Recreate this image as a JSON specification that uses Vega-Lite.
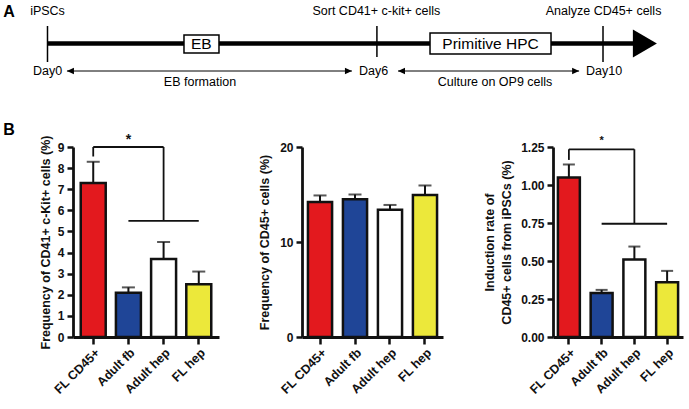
{
  "$schema": "https://vega.github.io/schema/vega-lite/v6.json",
  "padding": 0,
  "background": "white",
  "bounds": "flush",
  "spacing": 0,
  "config": {
    "view": {"stroke": null},
    "font": "Liberation Sans",
    "axis": {
      "domainColor": "#111", "domainWidth": 2.8, "tickColor": "#111", "tickWidth": 2.5, "tickSize": 6,
      "labelColor": "#111", "labelFont": "Liberation Sans", "labelFontWeight": "bold", "labelFontSize": 12,
      "titleFont": "Liberation Sans", "titleFontSize": 12.5, "titleFontWeight": "bold", "titleColor": "#111",
      "grid": false, "labelPadding": 3, "titlePadding": 5, "labelOverlap": false
    },
    "axisX": {"labelAngle": -45, "labelFontSize": 12.5, "labelPadding": 2, "tickSize": 7}
  },
  "vconcat": [
    {
      "width": 689,
      "height": 147,
      "layer": [
        {
          "data": {"values": [{"x": 0, "x2": 10.54, "y": 10.35}]},
          "mark": {"type": "rule", "strokeWidth": 4.5, "color": "#000"},
          "encoding": {
            "x": {"field": "x", "type": "quantitative", "scale": {"domain": [-0.855, 11.548], "nice": false, "zero": false}, "axis": null},
            "x2": {"field": "x2"},
            "y": {"field": "y", "type": "quantitative", "scale": {"domain": [0, 14.7], "nice": false, "zero": false}, "axis": null}
          }
        },
        {
          "data": {"values": [{"x": 0, "y": 8.5, "y2": 12.1}, {"x": 5.93, "y": 9.0, "y2": 12.1}, {"x": 10.0, "y": 8.5, "y2": 12.1}]},
          "mark": {"type": "rule", "strokeWidth": 1.5, "color": "#000"},
          "encoding": {
            "x": {"field": "x", "type": "quantitative"},
            "y": {"field": "y", "type": "quantitative"},
            "y2": {"field": "y2"}
          }
        },
        {
          "data": {"values": [{"x": 10.97, "y": 10.35}]},
          "mark": {"type": "point", "shape": "M0,0L-1,-0.58L-1,0.58Z", "size": 2304, "filled": true, "color": "#000", "opacity": 1},
          "encoding": {
            "x": {"field": "x", "type": "quantitative"},
            "y": {"field": "y", "type": "quantitative"}
          }
        },
        {
          "data": {"values": [{"x": 2.457, "x2": 3.087, "y": 9.4, "y2": 11.2}, {"x": 6.886, "x2": 9.064, "y": 9.3, "y2": 11.4}]},
          "mark": {"type": "rect", "fill": "white", "stroke": "#000", "strokeWidth": 1.5},
          "encoding": {
            "x": {"field": "x", "type": "quantitative"},
            "x2": {"field": "x2"},
            "y": {"field": "y", "type": "quantitative"},
            "y2": {"field": "y2"}
          }
        },
        {
          "data": {"values": [{"x": 2.77, "y": 10.3, "label": "EB"}, {"x": 7.975, "y": 10.35, "label": "Primitive HPC"}]},
          "mark": {"type": "text", "fontSize": 15.5, "baseline": "middle", "align": "center", "color": "#000"},
          "encoding": {
            "x": {"field": "x", "type": "quantitative"},
            "y": {"field": "y", "type": "quantitative"},
            "text": {"field": "label"}
          }
        },
        {
          "data": {"values": [
            {"x": 0, "y": 13.6, "label": "iPSCs"},
            {"x": 5.92, "y": 13.6, "label": "Sort CD41+ c-kit+ cells"},
            {"x": 10.01, "y": 13.6, "label": "Analyze CD45+ cells"},
            {"x": 0, "y": 7.6, "label": "Day0"},
            {"x": 5.87, "y": 7.6, "label": "Day6"},
            {"x": 10.02, "y": 7.6, "label": "Day10"},
            {"x": 2.745, "y": 6.5, "label": "EB formation"},
            {"x": 8.056, "y": 6.5, "label": "Culture on OP9 cells"}
          ]},
          "mark": {"type": "text", "fontSize": 12.5, "baseline": "middle", "align": "center", "color": "#000"},
          "encoding": {
            "x": {"field": "x", "type": "quantitative"},
            "y": {"field": "y", "type": "quantitative"},
            "text": {"field": "label"}
          }
        },
        {
          "data": {"values": [{"x": 0.35, "x2": 5.48, "y": 7.6}, {"x": 6.31, "x2": 9.57, "y": 7.6}]},
          "mark": {"type": "rule", "strokeWidth": 1, "color": "#000"},
          "encoding": {
            "x": {"field": "x", "type": "quantitative"},
            "x2": {"field": "x2"},
            "y": {"field": "y", "type": "quantitative"}
          }
        },
        {
          "data": {"values": [{"x": 0.35, "y": 7.6}, {"x": 6.31, "y": 7.6}]},
          "mark": {"type": "point", "shape": "M0,0L1,-0.45L1,0.45Z", "size": 196, "filled": true, "color": "#000", "opacity": 1},
          "encoding": {
            "x": {"field": "x", "type": "quantitative"},
            "y": {"field": "y", "type": "quantitative"}
          }
        },
        {
          "data": {"values": [{"x": 5.48, "y": 7.6}, {"x": 9.57, "y": 7.6}]},
          "mark": {"type": "point", "shape": "M0,0L-1,-0.45L-1,0.45Z", "size": 196, "filled": true, "color": "#000", "opacity": 1},
          "encoding": {
            "x": {"field": "x", "type": "quantitative"},
            "y": {"field": "y", "type": "quantitative"}
          }
        },
        {
          "data": {"values": [{"x": -0.693, "y": 13.5, "label": "A"}, {"x": -0.693, "y": 1.7, "label": "B"}]},
          "mark": {"type": "text", "fontSize": 16, "fontWeight": "bold", "baseline": "middle", "align": "center", "color": "#000"},
          "encoding": {
            "x": {"field": "x", "type": "quantitative"},
            "y": {"field": "y", "type": "quantitative"},
            "text": {"field": "label"}
          }
        }
      ]
    },
    {
      "bounds": "flush",
      "spacing": 0,
      "hconcat": [
        {
          "width": 73, "height": 190,
          "data": {"values": [{}]},
          "mark": {"type": "point", "opacity": 0},
          "encoding": {}
        },
        {
          "width": 146, "height": 190,
          "encoding": {
            "x": {"field": "group", "type": "nominal", "scale": {"domain": ["FL CD45+", "Adult fb", "Adult hep", "FL hep"], "paddingInner": 0.29, "paddingOuter": 0.22}, "axis": {"title": null}}
          },
          "layer": [
            {
              "data": {"name": "b1"},
              "mark": {"type": "rule", "strokeWidth": 2, "color": "#111"},
              "encoding": {
                "y": {"field": "mean", "type": "quantitative", "scale": {"domain": [0, 9], "nice": false}, "axis": {"values": [0, 1, 2, 3, 4, 5, 6, 7, 8, 9], "title": "Frequency of CD41+ c-Kit+ cells (%)"}},
                "y2": {"field": "upper"}
              }
            },
            {
              "data": {"name": "b1"},
              "mark": {"type": "tick", "size": 13, "thickness": 2, "color": "#111"},
              "encoding": {
                "y": {"field": "upper", "type": "quantitative", "axis": {"values": [0, 1, 2, 3, 4, 5, 6, 7, 8, 9], "title": "Frequency of CD41+ c-Kit+ cells (%)"}}
              }
            },
            {
              "data": {"name": "b1"},
              "mark": {"type": "bar", "stroke": "#111", "strokeWidth": 2.5},
              "encoding": {
                "y": {"field": "mean", "type": "quantitative", "axis": {"values": [0, 1, 2, 3, 4, 5, 6, 7, 8, 9], "title": "Frequency of CD41+ c-Kit+ cells (%)"}},
                "fill": {"field": "group", "type": "nominal", "scale": {"domain": ["FL CD45+", "Adult fb", "Adult hep", "FL hep"], "range": ["#e3191e", "#1f4597", "#ffffff", "#ece83a"]}, "legend": null}
              }
            },
            {
              "data": {"values": [
                {"group": "FL CD45+", "b": "FL CD45+", "y": 8.55, "y2": 9.0},
                {"group": "FL CD45+", "b": "Adult hep", "y": 9.0, "y2": 9.0},
                {"group": "Adult hep", "b": "Adult hep", "y": 9.0, "y2": 5.5},
                {"group": "Adult fb", "b": "FL hep", "y": 5.5, "y2": 5.5}
              ]},
              "mark": {"type": "rule", "strokeWidth": 1.8, "color": "#111"},
              "encoding": {
                "x2": {"field": "b"},
                "y": {"field": "y", "type": "quantitative", "axis": {"values": [0, 1, 2, 3, 4, 5, 6, 7, 8, 9], "title": "Frequency of CD41+ c-Kit+ cells (%)"}},
                "y2": {"field": "y2"}
              }
            },
            {
              "data": {"values": [{"group": "Adult fb", "y": 9.35, "label": "*"}]},
              "mark": {"type": "text", "fontSize": 14, "fontWeight": "bold", "baseline": "middle", "color": "#111"},
              "encoding": {
                "y": {"field": "y", "type": "quantitative", "axis": {"values": [0, 1, 2, 3, 4, 5, 6, 7, 8, 9], "title": "Frequency of CD41+ c-Kit+ cells (%)"}},
                "text": {"field": "label"}
              }
            }
          ]
        },
        {
          "width": 83, "height": 190,
          "data": {"values": [{}]},
          "mark": {"type": "point", "opacity": 0},
          "encoding": {}
        },
        {
          "width": 141, "height": 190,
          "encoding": {
            "x": {"field": "group", "type": "nominal", "scale": {"domain": ["FL CD45+", "Adult fb", "Adult hep", "FL hep"], "paddingInner": 0.31, "paddingOuter": 0.17}, "axis": {"title": null}}
          },
          "layer": [
            {
              "data": {"name": "b2"},
              "mark": {"type": "rule", "strokeWidth": 2, "color": "#111"},
              "encoding": {
                "y": {"field": "mean", "type": "quantitative", "scale": {"domain": [0, 20], "nice": false}, "axis": {"values": [0, 10, 20], "title": "Frequency of CD45+ cells (%)", "titlePadding": 8}},
                "y2": {"field": "upper"}
              }
            },
            {
              "data": {"name": "b2"},
              "mark": {"type": "tick", "size": 13, "thickness": 2, "color": "#111"},
              "encoding": {
                "y": {"field": "upper", "type": "quantitative", "axis": {"values": [0, 10, 20], "title": "Frequency of CD45+ cells (%)", "titlePadding": 8}}
              }
            },
            {
              "data": {"name": "b2"},
              "mark": {"type": "bar", "stroke": "#111", "strokeWidth": 2.5},
              "encoding": {
                "y": {"field": "mean", "type": "quantitative", "axis": {"values": [0, 10, 20], "title": "Frequency of CD45+ cells (%)", "titlePadding": 8}},
                "fill": {"field": "group", "type": "nominal", "scale": {"domain": ["FL CD45+", "Adult fb", "Adult hep", "FL hep"], "range": ["#e3191e", "#0d2f8c", "#ffffff", "#ece83a"]}, "legend": null}
              }
            }
          ]
        },
        {
          "width": 110, "height": 190,
          "data": {"values": [{}]},
          "mark": {"type": "point", "opacity": 0},
          "encoding": {}
        },
        {
          "width": 130, "height": 190,
          "encoding": {
            "x": {"field": "group", "type": "nominal", "scale": {"domain": ["FL CD45+", "Adult fb", "Adult hep", "FL hep"], "paddingInner": 0.33, "paddingOuter": 0.15}, "axis": {"title": null}}
          },
          "layer": [
            {
              "data": {"name": "b3"},
              "mark": {"type": "rule", "strokeWidth": 2, "color": "#111"},
              "encoding": {
                "y": {"field": "mean", "type": "quantitative", "scale": {"domain": [0, 1.25], "nice": false}, "axis": {"values": [0, 0.25, 0.5, 0.75, 1, 1.25], "format": ".2f", "title": ["Induction rate of", "CD45+ cells from iPSCs (%)"], "titleLineHeight": 17, "titlePadding": 7}},
                "y2": {"field": "upper"}
              }
            },
            {
              "data": {"name": "b3"},
              "mark": {"type": "tick", "size": 12, "thickness": 2, "color": "#111"},
              "encoding": {
                "y": {"field": "upper", "type": "quantitative", "axis": {"values": [0, 0.25, 0.5, 0.75, 1, 1.25], "format": ".2f", "title": ["Induction rate of", "CD45+ cells from iPSCs (%)"], "titleLineHeight": 17, "titlePadding": 7}}
              }
            },
            {
              "data": {"name": "b3"},
              "mark": {"type": "bar", "stroke": "#111", "strokeWidth": 2.5},
              "encoding": {
                "y": {"field": "mean", "type": "quantitative", "axis": {"values": [0, 0.25, 0.5, 0.75, 1, 1.25], "format": ".2f", "title": ["Induction rate of", "CD45+ cells from iPSCs (%)"], "titleLineHeight": 17, "titlePadding": 7}},
                "fill": {"field": "group", "type": "nominal", "scale": {"domain": ["FL CD45+", "Adult fb", "Adult hep", "FL hep"], "range": ["#e3191e", "#16388f", "#ffffff", "#ece83a"]}, "legend": null}
              }
            },
            {
              "data": {"values": [
                {"group": "FL CD45+", "b": "FL CD45+", "y": 1.165, "y2": 1.235},
                {"group": "FL CD45+", "b": "Adult hep", "y": 1.235, "y2": 1.235},
                {"group": "Adult hep", "b": "Adult hep", "y": 1.235, "y2": 0.745},
                {"group": "Adult fb", "b": "FL hep", "y": 0.745, "y2": 0.745}
              ]},
              "mark": {"type": "rule", "strokeWidth": 1.8, "color": "#111"},
              "encoding": {
                "x2": {"field": "b"},
                "y": {"field": "y", "type": "quantitative", "axis": {"values": [0, 0.25, 0.5, 0.75, 1, 1.25], "format": ".2f", "title": ["Induction rate of", "CD45+ cells from iPSCs (%)"], "titleLineHeight": 17, "titlePadding": 7}},
                "y2": {"field": "y2"}
              }
            },
            {
              "data": {"values": [{"group": "Adult fb", "y": 1.29, "label": "*"}]},
              "mark": {"type": "text", "fontSize": 11, "fontWeight": "bold", "baseline": "middle", "color": "#111"},
              "encoding": {
                "y": {"field": "y", "type": "quantitative", "axis": {"values": [0, 0.25, 0.5, 0.75, 1, 1.25], "format": ".2f", "title": ["Induction rate of", "CD45+ cells from iPSCs (%)"], "titleLineHeight": 17, "titlePadding": 7}},
                "text": {"field": "label"}
              }
            }
          ]
        }
      ]
    }
  ],
  "datasets": {
    "b1": [
      {"group": "FL CD45+", "mean": 7.3, "upper": 8.3},
      {"group": "Adult fb", "mean": 2.1, "upper": 2.35},
      {"group": "Adult hep", "mean": 3.7, "upper": 4.5},
      {"group": "FL hep", "mean": 2.5, "upper": 3.1}
    ],
    "b2": [
      {"group": "FL CD45+", "mean": 14.2, "upper": 14.9},
      {"group": "Adult fb", "mean": 14.5, "upper": 15.0},
      {"group": "Adult hep", "mean": 13.4, "upper": 13.9},
      {"group": "FL hep", "mean": 14.95, "upper": 15.95}
    ],
    "b3": [
      {"group": "FL CD45+", "mean": 1.05, "upper": 1.135},
      {"group": "Adult fb", "mean": 0.29, "upper": 0.31},
      {"group": "Adult hep", "mean": 0.51, "upper": 0.595},
      {"group": "FL hep", "mean": 0.36, "upper": 0.435}
    ]
  }
}
